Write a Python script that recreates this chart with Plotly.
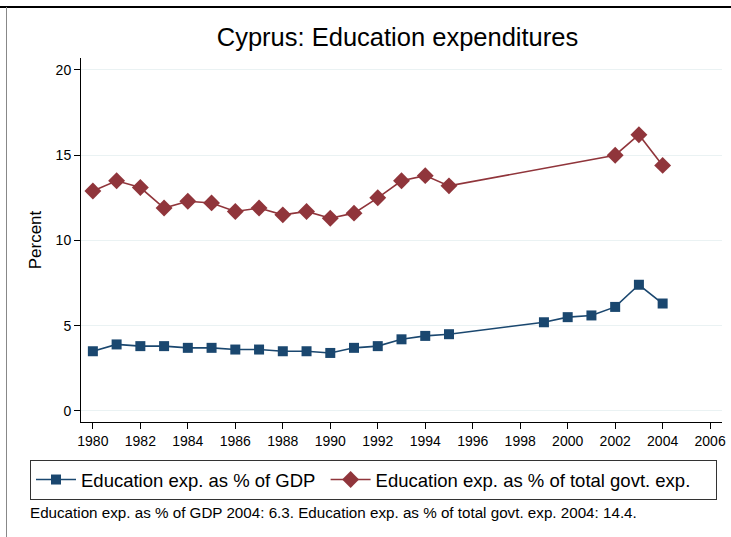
import plotly.graph_objects as go

years_gdp = [1980, 1981, 1982, 1983, 1984, 1985, 1986, 1987, 1988, 1989, 1990,
             1991, 1992, 1993, 1994, 1995, 1999, 2000, 2001, 2002, 2003, 2004]
gdp = [3.5, 3.9, 3.8, 3.8, 3.7, 3.7, 3.6, 3.6, 3.5, 3.5, 3.4,
       3.7, 3.8, 4.2, 4.4, 4.5, 5.2, 5.5, 5.6, 6.1, 7.4, 6.3]

years_gov = [1980, 1981, 1982, 1983, 1984, 1985, 1986, 1987, 1988, 1989, 1990,
             1991, 1992, 1993, 1994, 1995, 2002, 2003, 2004]
gov = [12.9, 13.5, 13.1, 11.9, 12.3, 12.2, 11.7, 11.9, 11.5, 11.7, 11.3,
       11.6, 12.5, 13.5, 13.8, 13.2, 15.0, 16.2, 14.4]

x_ticks = list(range(1980, 2007, 2))
y_ticks = [0, 5, 10, 15, 20]

title = "Cyprus: Education expenditures"
name_gdp = "Education exp. as % of GDP"
name_gov = "Education exp. as % of total govt. exp."
note = "Education exp. as % of GDP 2004: 6.3. Education exp. as % of total govt. exp. 2004: 14.4."

NAVY = "#1a476f"
MAROON = "#90353b"
FONT = "Liberation Sans, Arial, sans-serif"

fig = go.Figure()
fig.add_trace(go.Scatter(x=years_gdp, y=gdp, name=name_gdp + "\u00a0", mode="lines+markers",
                         line=dict(color=NAVY, width=1.6),
                         marker=dict(symbol="square", size=10, color=NAVY)))
fig.add_trace(go.Scatter(x=years_gov, y=gov, name=name_gov + "\u00a0\u00a0\u00a0\u00a0",
                         mode="lines+markers",
                         line=dict(color=MAROON, width=1.6),
                         marker=dict(symbol="diamond", size=13, color=MAROON)))

L, R, T, B = 81, 9, 58, 115
W, H = 731, 537
pw, ph = W - L - R, H - T - B

def px_x(p):
    return (p - L) / pw

def px_y(p):
    return (H - B - p) / ph

fig.update_layout(
    width=W, height=H,
    margin=dict(l=L, r=R, t=T, b=B, autoexpand=False),
    paper_bgcolor="white", plot_bgcolor="white",
    font=dict(family=FONT, color="black", size=14),
    title=dict(text=title, x=397.5 / W, xref="container", xanchor="center",
               y=1 - 37 / H, yanchor="middle",
               font=dict(size=25.5, family=FONT, color="black")),
    showlegend=True,
    legend=dict(orientation="h", x=px_x(30), y=px_y(460), xanchor="left", yanchor="top",
                bordercolor="#333333", borderwidth=1, bgcolor="white",
                font=dict(size=18.5, family=FONT), itemwidth=40,
                tracegroupgap=0),
    xaxis=dict(range=[1979.5, 2006.5], tickvals=x_ticks, ticks="outside", ticklen=6,
               tickcolor="black", showline=True, linecolor="black", linewidth=1,
               showgrid=False, zeroline=False, tickfont=dict(size=14)),
    yaxis=dict(range=[-0.65, 20.7], tickvals=y_ticks, ticks="outside", ticklen=6,
               tickcolor="black", showline=True, linecolor="black", linewidth=1,
               showgrid=True, gridcolor="#eaf2f3", gridwidth=1, zeroline=False,
               title=dict(text="Percent", font=dict(size=17), standoff=9),
               tickfont=dict(size=14)),
    shapes=[
        dict(type="line", xref="paper", yref="paper", x0=px_x(0), x1=px_x(W),
             y0=px_y(7), y1=px_y(7), line=dict(color="black", width=2)),
        dict(type="line", xref="paper", yref="paper", x0=px_x(6.5), x1=px_x(6.5),
             y0=px_y(7), y1=px_y(H), line=dict(color="#888888", width=1)),
    ],
    annotations=[
        dict(text=note, xref="paper", yref="paper", x=px_x(28), y=px_y(512),
             xanchor="left", yanchor="middle", showarrow=False,
             font=dict(size=15.2, family=FONT, color="black")),
    ],
)

fig.write_html("out.html", config={"displayModeBar": False},
               post_script="document.body.style.margin='0px';document.body.style.overflow='hidden';")
